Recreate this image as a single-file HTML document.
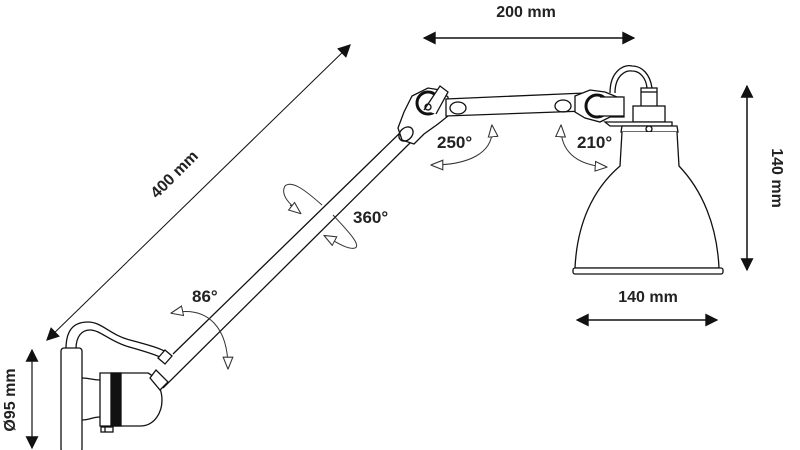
<!DOCTYPE html>
<html><head><meta charset="utf-8"><style>
html,body{margin:0;padding:0;background:#fff;width:800px;height:450px;overflow:hidden}
text{font-family:"Liberation Sans",sans-serif;font-weight:bold;fill:#222}
</style></head><body>
<svg width="800" height="450" viewBox="0 0 800 450" xmlns="http://www.w3.org/2000/svg">
<defs>
<marker id="a" viewBox="0 0 10 10" refX="9" refY="5" markerWidth="15" markerHeight="13" orient="auto-start-reverse" markerUnits="userSpaceOnUse"><path d="M0,0 L10,5 L0,10 z" fill="#111"/></marker>
<marker id="o" viewBox="0 0 10 10" refX="9" refY="5" markerWidth="13" markerHeight="12" orient="auto-start-reverse" markerUnits="userSpaceOnUse"><path d="M0,1 L10,5 L0,9 z" fill="#fff" stroke="#333" stroke-width="0.9"/></marker>
</defs>
<g stroke="#111" stroke-width="1.3" fill="none">
<line x1="424" y1="38" x2="634" y2="38" marker-start="url(#a)" marker-end="url(#a)" stroke-width="1.5"/>
<line x1="747" y1="86" x2="747" y2="270" marker-start="url(#a)" marker-end="url(#a)" stroke-width="1.5"/>
<line x1="577" y1="320" x2="717" y2="320" marker-start="url(#a)" marker-end="url(#a)" stroke-width="1.5"/>
<line x1="47" y1="340" x2="350" y2="45" marker-start="url(#a)" marker-end="url(#a)" stroke-width="1"/>
<line x1="32" y1="350" x2="32" y2="448" marker-start="url(#a)" marker-end="url(#a)" stroke-width="1.2"/>

<line x1="173" y1="354" x2="405" y2="128"/>
<line x1="163" y1="388" x2="412" y2="141"/>
<path d="M398,128 L404,112 L412,96 L428,88 L440,90 L448,97 L448,116 L438,124 L424,134 L414,144 L402,140 Z" fill="#fff"/>
<ellipse cx="406" cy="134" rx="8" ry="6" transform="rotate(-45 406 134)"/>
<circle cx="428" cy="103" r="11" stroke-width="3" fill="#fff"/>
<path d="M424,110 L440,86 L448,92 L436,114" fill="#fff"/>
<circle cx="428" cy="107" r="3"/>
<path d="M446,99 L585,93 L585,111 L446,116 Z" fill="#fff"/>
<ellipse cx="458" cy="108" rx="8" ry="6"/>
<ellipse cx="563" cy="106" rx="8" ry="6"/>
<path d="M575,96 L590,90 L605,92 L617,97 L622,97 L624,117 L610,117 L600,122 L585,118 L575,112 Z" fill="#fff"/>
<circle cx="597" cy="106" r="11" stroke-width="3" fill="#fff"/>
<path d="M600,97 L624,97 L624,116 L600,116" fill="#fff"/>
<path d="M610,93 C610,70 625,64 632,66 C642,66 650,74 652,88"/>
<path d="M615,93 C615,75 626,70 632,71 C640,71 646,78 647,88"/>
<rect x="641" y="88" width="16" height="19" fill="#fff"/>
<line x1="641" y1="92" x2="657" y2="92"/>
<rect x="633" y="106" width="32" height="16" fill="#fff"/>
<path d="M605,122 L672,122 L672,126 L610,126 Z" fill="#fff"/>
<path d="M622,126 L677,126 L678,132 L621,132 Z" fill="#fff"/>
<circle cx="649" cy="129" r="3"/>
<path d="M622,132 L620,166 C592,190 577,225 575,268 L719,268 C717,225 702,190 679,166 L677,132" fill="#fff"/>
<rect x="573" y="268" width="150" height="6" rx="2" fill="#fff"/>

<path d="M66,349 C66,332 72,322 88,322 C102,322 110,335 130,340 C145,344 160,348 166,352"/>
<path d="M76,349 C76,336 82,330 90,330 C100,330 108,340 126,346 C140,350 155,354 162,358"/>
<path d="M158,358 L165,350 L172,356 L165,364 Z" fill="#fff"/>
<rect x="61" y="348" width="21" height="104" rx="3" fill="#fff"/>
<path d="M82,378 C90,378 92,380 100,380 M82,420 C90,420 92,417 100,417"/>
<path d="M100,373 L148,373 C158,378 162,392 162,400 C162,412 155,426 140,426 L100,426 Z" fill="#fff"/>
<rect x="111" y="373" width="10" height="53" fill="#111"/>
<path d="M150,378 L156,370 L168,382 L160,390 Z" fill="#fff"/>
<rect x="101" y="427" width="12" height="5" fill="#fff"/>
<line x1="105" y1="427" x2="105" y2="432"/>
</g>
<g stroke="#333" stroke-width="1" fill="none">
<path d="M492,126 C495,155 465,165 432,165" marker-start="url(#o)" marker-end="url(#o)"/>
<path d="M561,126 C560,150 575,165 606,167" marker-start="url(#o)" marker-end="url(#o)"/>
<path d="M300,212 C290,205 280,195 285,186 C292,180 305,190 322,205"/>
<path d="M290,205 L300,213" marker-end="url(#o)"/>
<path d="M333,215 C345,228 362,245 355,248 C348,250 338,243 325,236" marker-end="url(#o)"/>
<path d="M172,313 C210,305 228,330 228,368" marker-start="url(#o)" marker-end="url(#o)"/>
</g>
<text x="526" y="17" font-size="16" text-anchor="middle">200 mm</text>
<text x="648" y="302" font-size="16" text-anchor="middle">140 mm</text>
<text transform="translate(772,178) rotate(90)" font-size="16" text-anchor="middle">140 mm</text>
<text transform="translate(178,178) rotate(-45)" font-size="16" text-anchor="middle">400 mm</text>
<text transform="translate(15,400) rotate(-90)" font-size="16" text-anchor="middle">Ø95 mm</text>
<text x="437" y="148" font-size="17">250°</text>
<text x="577" y="148" font-size="17">210°</text>
<text x="353" y="223" font-size="17">360°</text>
<text x="192" y="302" font-size="17">86°</text>
</svg>
</body></html>
